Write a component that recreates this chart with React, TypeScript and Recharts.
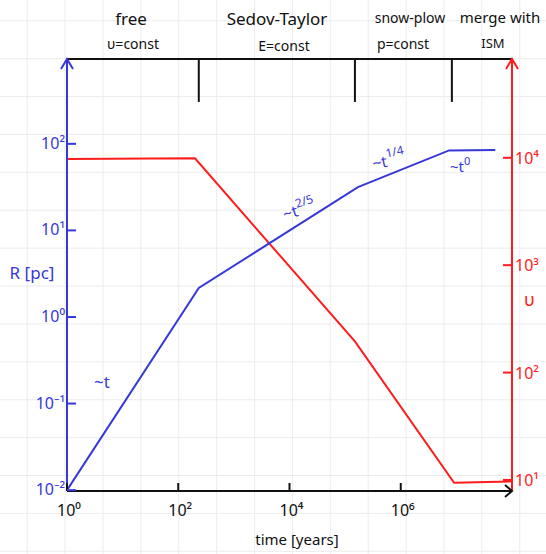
import { LineChart, Line, XAxis, YAxis, ReferenceLine } from 'recharts'

// radius of the remnant (blue, left axis)
const radiusTime = [1, 234, 1.7e5, 7.4e6, 5e7]
const radiusPc = [0.01, 2.16, 31.6, 84, 85]

// shock velocity (red, right axis)
const velTime = [1, 200, 1.5e5, 9.1e6, 1e8]
const velKms = [9770, 9880, 195, 9.4, 9.7]

// phase boundaries drawn as ticks hanging from the top edge
const phaseBounds = [234, 1.5e5, 8.3e6]

const timeTicks = [1, 1e2, 1e4, 1e6]
const radiusTicks = [1e-2, 1e-1, 1, 10, 100]
const velTicks = [10, 100, 1e3, 1e4]

const sup: Record<string, string> = { '-': '⁻', '0': '⁰', '1': '¹', '2': '²', '3': '³', '4': '⁴', '6': '⁶' }
const pow10 = (v: number) =>
  '10' + String(Math.round(Math.log10(v))).split('').map((c) => sup[c] ?? c).join('')

const BLUE = '#3838d8'
const RED = '#ff1c1c'
const FONT = '"Noto Sans", sans-serif'

const rRows = radiusTime.map((t, i) => ({ t, r: radiusPc[i] }))
const vRows = velTime.map((t, i) => ({ t, v: velKms[i] }))

// eslint-disable-next-line @typescript-eslint/no-explicit-any
function LeftTick({ x, y, payload }: any) {
  return (
    <g>
      <line x1={x} x2={x + 9} y1={y} y2={y} stroke={BLUE} strokeWidth={2} />
      <text x={x - 2} y={y} dy={5} textAnchor="end" fill={BLUE} fontSize={16} fontFamily={FONT}>
        {pow10(payload.value)}
      </text>
    </g>
  )
}

// eslint-disable-next-line @typescript-eslint/no-explicit-any
function RightTick({ x, y, payload }: any) {
  return (
    <g>
      <line x1={x - 9} x2={x} y1={y} y2={y} stroke={RED} strokeWidth={2} />
      <text x={x + 3} y={y} dy={6} textAnchor="start" fill={RED} fontSize={16} fontFamily={FONT}>
        {pow10(payload.value)}
      </text>
    </g>
  )
}

// eslint-disable-next-line @typescript-eslint/no-explicit-any
function BottomTick({ x, y, payload }: any) {
  return (
    <g>
      <line x1={x} x2={x} y1={y} y2={y - 8} stroke="#111" strokeWidth={2} />
      <text x={x + 2} y={y} dy={25} textAnchor="middle" fill="#111" fontSize={16} fontFamily={FONT}>
        {pow10(payload.value)}
      </text>
    </g>
  )
}

const txt = { fontFamily: FONT, textAnchor: 'middle' as const }

export default function App() {
  const W = 546
  const H = 554
  return (
    <div
      style={{
        position: 'absolute',
        left: 0,
        top: 0,
        width: W,
        height: H,
        background: '#fff',
        backgroundImage:
          'linear-gradient(to right, #ececec 1px, transparent 1px), linear-gradient(to bottom, #ececec 1px, transparent 1px)',
        backgroundSize: '37.9px 37.9px',
        backgroundPosition: '26.7px 20.3px',
      }}
    >
      <LineChart width={W} height={H} margin={{ top: 59, right: 0, bottom: 0, left: 0 }}>
        <XAxis
          dataKey="t"
          type="number"
          scale="log"
          domain={[1, 1e8]}
          allowDataOverflow
          ticks={timeTicks}
          tick={<BottomTick />}
          tickLine={false}
          tickSize={0}
          tickMargin={0}
          height={63}
          axisLine={{ stroke: '#111', strokeWidth: 2 }}
        />
        <YAxis
          yAxisId="R"
          type="number"
          scale="log"
          domain={[0.00977, 955]}
          allowDataOverflow
          ticks={radiusTicks}
          tick={<LeftTick />}
          tickLine={false}
          tickSize={0}
          tickMargin={0}
          width={67}
          axisLine={{ stroke: BLUE, strokeWidth: 2 }}
        />
        <YAxis
          yAxisId="V"
          orientation="right"
          type="number"
          scale="log"
          domain={[7.89, 83176]}
          allowDataOverflow
          ticks={velTicks}
          tick={<RightTick />}
          tickLine={false}
          tickSize={0}
          tickMargin={0}
          width={34}
          axisLine={{ stroke: RED, strokeWidth: 2 }}
        />
        <ReferenceLine yAxisId="R" y={955} stroke="#111" strokeWidth={2} ifOverflow="visible" />
        {phaseBounds.map((t) => (
          <ReferenceLine
            key={t}
            yAxisId="R"
            segment={[
              { x: t, y: 955 },
              { x: t, y: 305 },
            ]}
            stroke="#111"
            strokeWidth={2}
            ifOverflow="visible"
          />
        ))}
        <Line
          yAxisId="V"
          data={vRows}
          dataKey="v"
          type="linear"
          stroke={RED}
          strokeWidth={2}
          dot={false}
          isAnimationActive={false}
        />
        <Line
          yAxisId="R"
          data={rRows}
          dataKey="r"
          type="linear"
          stroke={BLUE}
          strokeWidth={2}
          dot={false}
          isAnimationActive={false}
        />
      </LineChart>
      <svg
        width={W}
        height={H}
        style={{ position: 'absolute', left: 0, top: 0, pointerEvents: 'none' }}
      >
        {/* arrow heads */}
        <polyline points="61,69 67,59 73,69" fill="none" stroke={BLUE} strokeWidth={2} />
        <polyline points="506,69 512,59 518,69" fill="none" stroke={RED} strokeWidth={2} />
        <polyline points="505,485 512,491 505,497" fill="none" stroke="#111" strokeWidth={2} />

        {/* phase labels */}
        <g fill="#111" {...txt}>
          <text x={131} y={25} fontSize={17}>free</text>
          <text x={133} y={49} fontSize={14}>υ=const</text>
          <text x={277} y={25} fontSize={17}>Sedov-Taylor</text>
          <text x={284} y={51} fontSize={14}>E=const</text>
          <text x={410} y={23} fontSize={14}>snow-plow</text>
          <text x={403} y={49} fontSize={14}>p=const</text>
          <text x={500} y={23} fontSize={15}>merge with</text>
          <text x={493} y={48} fontSize={13}>ISM</text>
          <text x={297} y={545} fontSize={15}>time [years]</text>
        </g>

        {/* axis titles */}
        <text x={32} y={279} fill={BLUE} fontSize={17} {...txt}>R [pc]</text>
        <text x={524} y={306} fill={RED} fontSize={18} fontFamily={FONT}>υ</text>

        {/* slope annotations */}
        <g fill={BLUE} fontFamily={FONT}>
          <text x={94} y={388} fontSize={17}>~t</text>
          <text x={282} y={215} fontSize={16} transform="rotate(-18 300 208)">
            ~t<tspan dy={-8} fontSize={12}>2/5</tspan>
          </text>
          <text x={372} y={166} fontSize={16} transform="rotate(-12 390 160)">
            ~t<tspan dy={-9} fontSize={12}>1/4</tspan>
          </text>
          <text x={450} y={172} fontSize={15}>
            ~t<tspan dy={-7} fontSize={11}>0</tspan>
          </text>
        </g>
      </svg>
    </div>
  )
}
